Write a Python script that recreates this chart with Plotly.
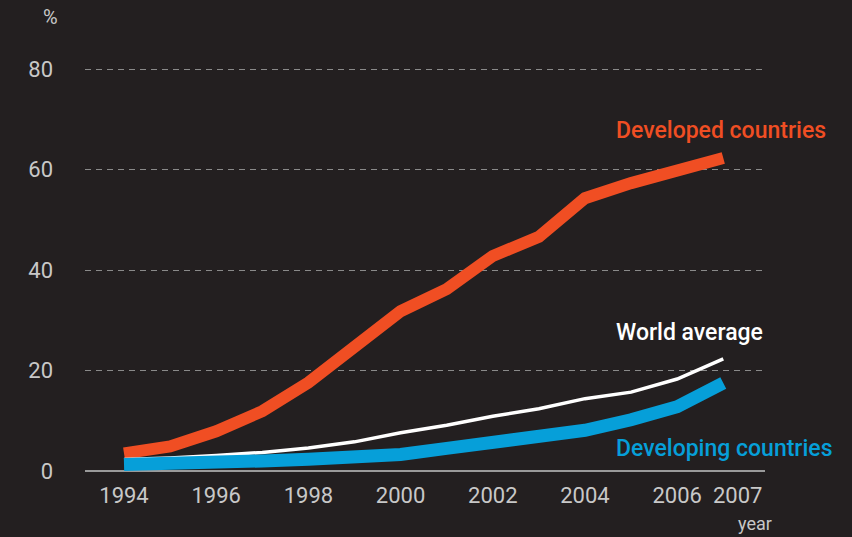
import plotly.graph_objects as go

# Internet users per 100 inhabitants, 1994-2007
years = list(range(1994, 2008))
developed = [3.5, 4.9, 7.9, 11.9, 17.6, 24.8, 31.8, 36.2, 42.8, 46.6, 54.3, 57.3, 59.9, 62.3]
world = [2.3, 2.6, 3.1, 3.7, 4.6, 5.8, 7.6, 9.1, 10.9, 12.4, 14.4, 15.7, 18.3, 22.3]
developing = [1.3, 1.4, 1.6, 2.0, 2.35, 2.7, 3.3, 4.5, 5.7, 6.9, 8.1, 10.2, 12.8, 17.5]

x_ticks = [1994, 1996, 1998, 2000, 2002, 2004, 2006]
y_ticks = [0, 20, 40, 60, 80]

BG = "#231f20"
RED = "#f04e23"
BLUE = "#069fd9"
WHITE = "#ffffff"
GREY_TEXT = "#c8c8c8"
GRID = "#8a8a8a"
TICK_FONT = dict(family="Roboto, DejaVu Sans, sans-serif", size=22, color=GREY_TEXT)
LABEL_FONT = "Roboto, sans-serif"

W, H = 852, 537
ML, MR, MT, MB = 85, 87, 59, 66
pw, ph = W - ML - MR, H - MT - MB


def px_x(px):
    return (px - ML) / pw


def px_y(py):
    return (H - MB - py) / ph


fig = go.Figure()
fig.add_trace(go.Scatter(x=years, y=developed, mode="lines",
                         line=dict(color=RED, width=12), hoverinfo="skip"))
fig.add_trace(go.Scatter(x=years, y=world, mode="lines",
                         line=dict(color=WHITE, width=3.5), hoverinfo="skip"))
fig.add_trace(go.Scatter(x=years, y=developing, mode="lines",
                         line=dict(color=BLUE, width=13), hoverinfo="skip"))

series_label = dict(xref="paper", yref="y", xanchor="left", yanchor="middle", showarrow=False)
annotations = [
    dict(text="Developed countries", x=px_x(614), y=67.8,
         font=dict(family=LABEL_FONT, size=23, weight=500, color=RED), **series_label),
    dict(text="World average", x=px_x(614), y=27.6,
         font=dict(family=LABEL_FONT, size=23, weight=500, color=WHITE), **series_label),
    dict(text="Developing countries", x=px_x(614), y=4.5,
         font=dict(family=LABEL_FONT, size=23, weight=500, color=BLUE), **series_label),
    # final year label sits a little right of its point
    dict(text="2007", x=2007, xref="x", y=0, yref="paper", xshift=14, yshift=-24,
         xanchor="center", yanchor="middle", showarrow=False, font=TICK_FONT),
    dict(text="year", xref="paper", yref="paper", x=px_x(774), y=px_y(523),
         xanchor="right", yanchor="middle", showarrow=False,
         font=dict(family=LABEL_FONT, size=18, color=GREY_TEXT)),
    dict(text="%", xref="paper", yref="paper", x=px_x(50), y=px_y(17),
         xanchor="center", yanchor="middle", showarrow=False,
         font=dict(family="Roboto, sans-serif", size=20, color=GREY_TEXT)),
]

fig.update_layout(
    width=W, height=H,
    margin=dict(l=ML, r=MR, t=MT, b=MB),
    paper_bgcolor=BG, plot_bgcolor=BG,
    showlegend=False,
    annotations=annotations,
    xaxis=dict(range=[1993.154, 2007.905], tickvals=x_ticks, showgrid=False,
               zeroline=False, showline=False, ticks="", tickfont=TICK_FONT,
               ticklabelstandoff=9, fixedrange=True),
    yaxis=dict(range=[0, 82], tickvals=y_ticks, showgrid=True, gridcolor=GRID,
               gridwidth=1, griddash="6px,5px", zeroline=True, zerolinecolor="#9a9a9a",
               zerolinewidth=1.5, showline=False, ticks="", tickfont=TICK_FONT,
               ticklabelstandoff=31, fixedrange=True),
)

fig.write_html("out.html", config={"displayModeBar": False})
